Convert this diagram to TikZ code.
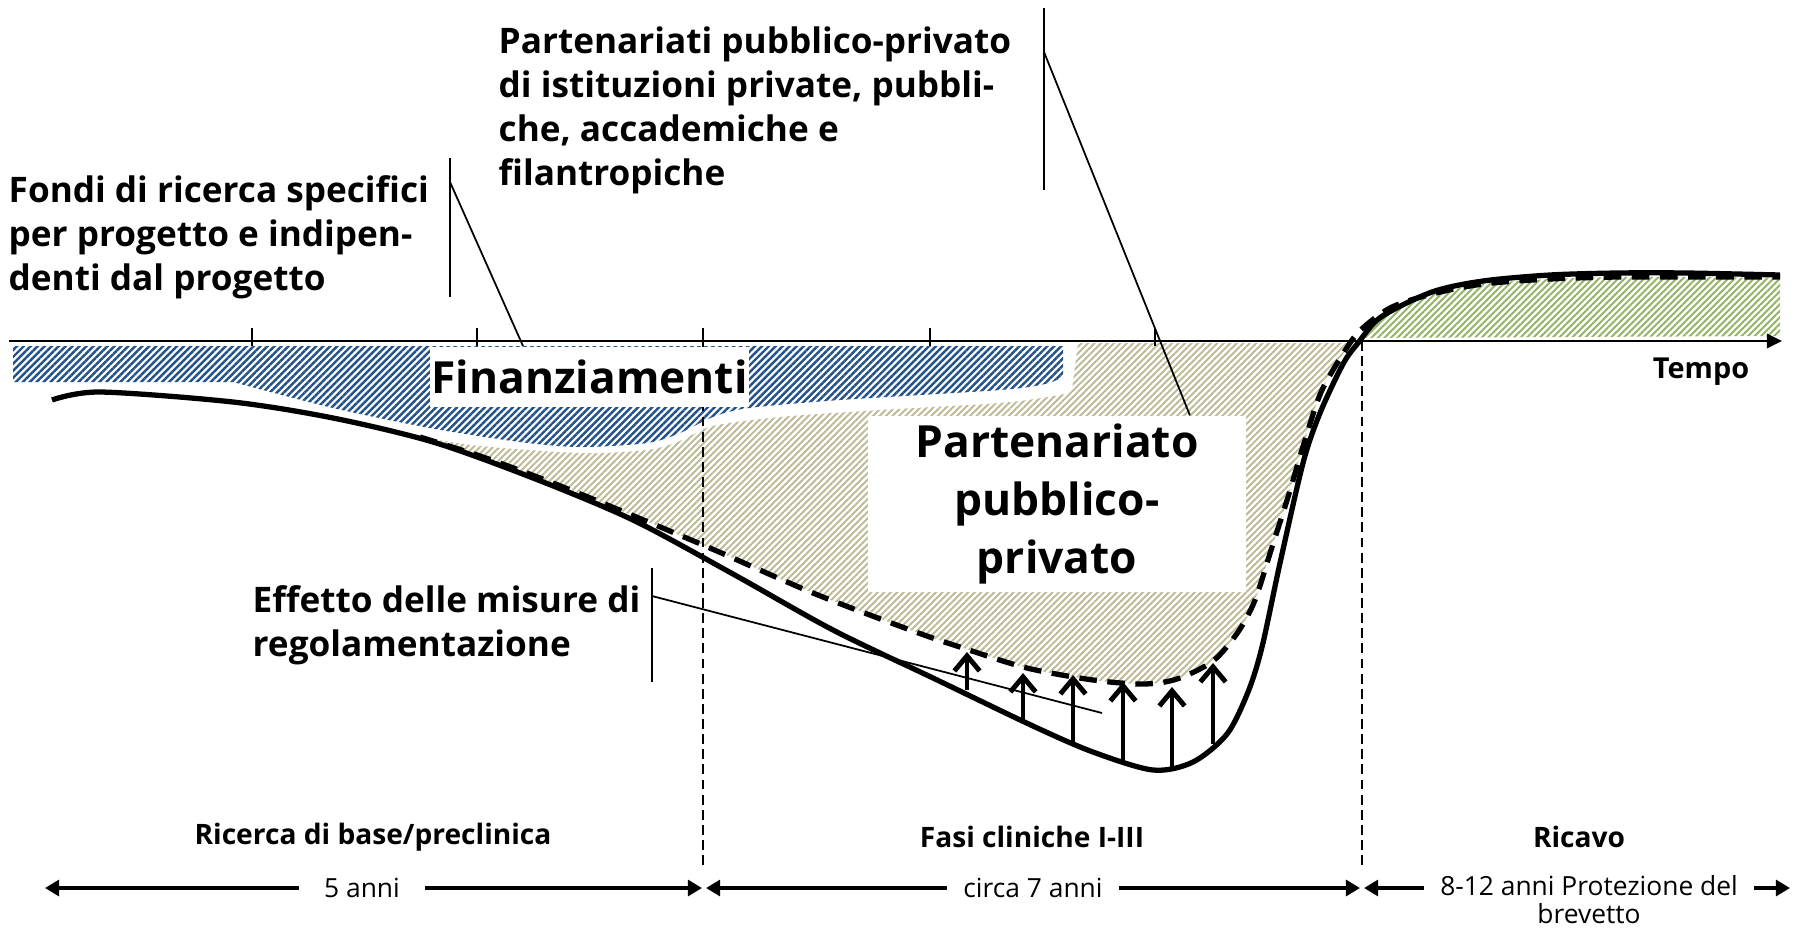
\documentclass[tikz,border=0pt]{standalone}
\usepackage{fontspec}
\setmainfont{Open Sans}
\usetikzlibrary{arrows.meta}
\usetikzlibrary{patterns.meta}
\usetikzlibrary{calc}
\definecolor{finblue}{HTML}{24528A}
\definecolor{pppkhaki}{HTML}{BDB994}
\definecolor{revgreen}{HTML}{93B363}

\begin{document}
\begin{tikzpicture}[x=0.01cm, y=-0.01cm,
  note/.style={font=\bfseries\fontsize{10}{12.5}\selectfont, align=left, inner sep=0},
  bigbox/.style={fill=white, inner sep=0, align=center, font=\bfseries\fontsize{12.6}{16.5}\selectfont},
  leader/.style={line width=0.5pt},
  phase/.style={font=\bfseries\fontsize{8}{10}\selectfont},
  spanlbl/.style={fill=white, inner xsep=4.5pt, inner ysep=1pt, align=center, font=\fontsize{7.5}{8}\selectfont},
  spanhalf/.style={line width=1.1pt, -{Triangle[length=4pt,width=4.5pt]}},
  effarrow/.style={line width=1.4pt, -{Straight Barb[length=4.3pt,width=7.2pt]}},
  costline/.style={line width=1.5pt},
  costdash/.style={line width=1.5pt, dash pattern=on 5pt off 3pt},
  phasesep/.style={line width=0.5pt, dash pattern=on 2.8pt off 1.5pt}
]
\useasboundingbox (0,0) rectangle (1810,927);

\fill[pattern={Lines[angle=45,distance=1.4pt,line width=0.7pt]}, pattern color=finblue]
  (13,346) -- (1063,346) -- (1063,377)
  -- plot[smooth, tension=0.5] coordinates {(1063,377) (1045,384) (1000,390) (840,400) (749,408) (713,417) (680,433) (647,443) (580,447) (520,442) (430,428) (333,408) (233,382)}
  -- (13,382) -- cycle;
\fill[pattern={Lines[angle=45,distance=1.3pt,line width=0.55pt]}, pattern color=pppkhaki]
  (1078,343) -- (1350,343)
  -- plot[smooth, tension=0.5] coordinates {(1350,343) (1322,390) (1305,440) (1288,497) (1272,547) (1255,600) (1238,632) (1213,661) (1177,679) (1143,684) (1093,680) (1027,668) (963,648) (913,631) (813,593) (703,545) (600,502) (540,478) (480,456) (420,437)}
  -- plot[smooth, tension=0.5] coordinates {(420,437) (480,446) (580,453) (647,450) (680,441) (713,426) (780,417) (880,410) (1000,403) (1060,395) (1072,390)}
  -- cycle;
\fill[pattern={Lines[angle=45,distance=1.3pt,line width=0.55pt]}, pattern color=revgreen]
  plot[smooth, tension=0.5] coordinates {(1360,338) (1381,319) (1432,295) (1483,284) (1550,279) (1618,277) (1686,277) (1780,278)}
  -- (1780,336) -- cycle;

\foreach \x in {703,1362}
  \draw[phasesep] (\x,341) -- (\x,866);

\node[bigbox, minimum width=3.19cm, minimum height=0.6cm] (finbox) at (589.5,377) {Finanziamenti};
\node[bigbox, minimum width=3.78cm, minimum height=1.76cm] (pppbox) at (1057,504) {Partenariato\\pubblico-\\privato};

\draw[line width=0.8pt, -{Triangle[length=4.3pt,width=4pt]}] (9,341) -- (1782,341);
\foreach \x in {252,477,703,930,1155}
  \draw[line width=0.7pt] (\x,328) -- (\x,346);
\node[font=\bfseries\fontsize{8.2}{10}\selectfont] (tempo) at (1701,372) {Tempo};

\draw[costline] plot[smooth, tension=0.5] coordinates {(52,400) (100,392) (233,402) (333,418) (433,442) (533,478) (633,520) (733,574) (833,630) (933,678) (1033,726) (1093,752) (1153,770) (1193,762) (1227,734) (1248,692) (1262,647) (1280,563) (1303,463) (1320,413) (1343,364) (1358,343) (1381,317) (1432,292) (1483,281) (1550,275) (1618,273) (1686,273) (1780,275)};
\draw[costdash] plot[smooth, tension=0.5] coordinates {(420,437) (480,456) (540,478) (600,502) (703,545) (813,593) (913,631) (963,648) (1027,668) (1093,680) (1143,684) (1177,679) (1213,661) (1238,632) (1255,600) (1272,547) (1288,497) (1305,440) (1322,390) (1350,343) (1365,326) (1392,307) (1432,294) (1483,284) (1550,279) (1618,277) (1686,277) (1780,277)};

\foreach \x/\ylo/\yhi in {967/690/652, 1023/722/673, 1073/742/675, 1123/762/682, 1172/767/687, 1213/744/663}
  \draw[effarrow] (\x,\ylo) -- (\x,\yhi);

\node[note, anchor=west] (fondi) at (8,237) {Fondi di ricerca specifici\\per progetto e indipen-\\denti dal progetto};
\coordinate (fondiTop) at (450,158);
\coordinate (fondiBot) at (450,297);
\coordinate (fondiKnee) at (450,182);
\coordinate (fondiEnd) at (523,346);
\draw[leader] (fondiTop) -- (fondiBot);
\draw[leader] (fondiKnee) -- (fondiEnd);

\node[note, anchor=west] (pppnote) at (498,110) {Partenariati pubblico-privato\\di istituzioni private, pubbli-\\che, accademiche e\\filantropiche};
\coordinate (pppTop) at (1044,8);
\coordinate (pppBot) at (1044,190);
\coordinate (pppKnee) at (1044,52);
\coordinate (pppEnd) at ($(pppbox.north west)!0.85!(pppbox.north east)$);
\draw[leader] (pppTop) -- (pppBot);
\draw[leader] (pppKnee) -- (pppEnd);

\node[note, anchor=west] (effnote) at (252,625) {Effetto delle misure di\\regolamentazione};
\coordinate (effTop) at (652,568);
\coordinate (effBot) at (652,682);
\coordinate (effKnee) at (652,596);
\coordinate (effEnd) at (1102,713);
\draw[leader] (effTop) -- (effBot);
\draw[leader] (effKnee) -- (effEnd);

\node[phase] (phbase) at (373,837) {Ricerca di base/preclinica};
\node[phase] (phclin) at (1032,837) {Fasi cliniche I-III};
\node[phase] (phrev) at (1579,837) {Ricavo};

\coordinate (s0) at (45,888);
\coordinate (s1) at (702,888);
\coordinate (s2) at (706,888);
\coordinate (s3) at (1360,888);
\coordinate (s4) at (1364,888);
\coordinate (s5) at (1790,888);
\node[spanlbl, inner xsep=7pt] (yrs5) at (362,888) {5 anni};
\node[spanlbl] (yrs7) at (1033,888) {circa 7 anni};
\node[spanlbl, anchor=north] (yrspat) at (1589,871) {8-12 anni Protezione del\\brevetto};
\draw[spanhalf] (yrs5) -- (s0);
\draw[spanhalf] (yrs5) -- (s1);
\draw[spanhalf] (yrs7) -- (s2);
\draw[spanhalf] (yrs7) -- (s3);
\draw[spanhalf] (s4 -| yrspat.west) -- (s4);
\draw[spanhalf] (s5 -| yrspat.east) -- (s5);
\end{tikzpicture}
\end{document}
